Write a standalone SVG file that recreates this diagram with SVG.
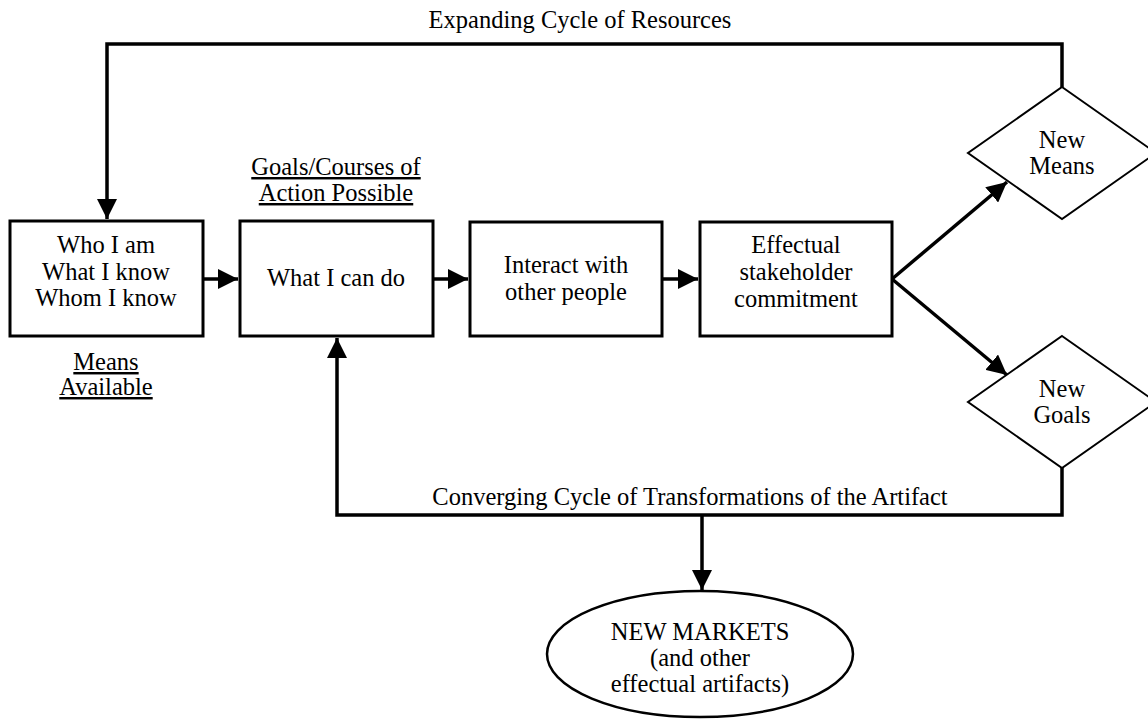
<svg xmlns="http://www.w3.org/2000/svg" width="1148" height="720" viewBox="0 0 1148 720">
<style>
text{font-family:"Liberation Serif","Times New Roman",serif;font-size:24.5px;fill:#000;text-anchor:middle}
.box{fill:#fff;stroke:#000;stroke-width:3}
.dia{fill:#fff;stroke:#000;stroke-width:2}
.conn{fill:none;stroke:#000;stroke-width:3.5}
.u{text-decoration:underline}
</style>
<defs>
<marker id="ah" markerUnits="userSpaceOnUse" markerWidth="20" markerHeight="20" viewBox="0 0 20 20" refX="20" refY="10" orient="auto">
<path d="M0,0 L20,10 L0,20 Z" fill="#000"/>
</marker>
</defs>
<g id="connectors">
<path class="conn" d="M1062,87 V44 H107 V219" marker-end="url(#ah)"/>
<path class="conn" d="M1062,468 V515 H337 V338" marker-end="url(#ah)"/>
<path class="conn" d="M702,515 V590" marker-end="url(#ah)"/>
<path class="conn" d="M203,279 H238" marker-end="url(#ah)"/>
<path class="conn" d="M433,279 H468" marker-end="url(#ah)"/>
<path class="conn" d="M662,279 H698" marker-end="url(#ah)"/>
<path class="conn" d="M892,279 L1007,182" marker-end="url(#ah)"/>
<path class="conn" d="M892,279 L1007,375" marker-end="url(#ah)"/>
</g>
<g id="label-expanding"><text x="580" y="28">Expanding Cycle of Resources</text></g>
<g id="label-converging"><text x="690" y="505">Converging Cycle of Transformations of the Artifact</text></g>
<g id="label-goals">
<text class="u" x="336" y="175">Goals/Courses of</text>
<text class="u" x="336" y="201">Action Possible</text>
</g>
<g id="label-means">
<text class="u" x="106" y="370">Means</text>
<text class="u" x="106" y="395">Available</text>
</g>
<g id="node-who">
<rect class="box" x="10" y="221" width="193" height="115"/>
<text x="106" y="253">Who I am</text>
<text x="106" y="280">What I know</text>
<text x="106" y="306">Whom I know</text>
</g>
<g id="node-what">
<rect class="box" x="240" y="221" width="193" height="115"/>
<text x="336" y="286">What I can do</text>
</g>
<g id="node-interact">
<rect class="box" x="470" y="222" width="192" height="114"/>
<text x="566" y="273">Interact with</text>
<text x="566" y="300">other people</text>
</g>
<g id="node-commit">
<rect class="box" x="700" y="222" width="192" height="114"/>
<text x="796" y="253">Effectual</text>
<text x="796" y="280">stakeholder</text>
<text x="796" y="307">commitment</text>
</g>
<g id="node-newmeans">
<polygon class="dia" points="1062,87 1156,153 1062,219 968,153"/>
<text x="1062" y="148">New</text>
<text x="1062" y="174">Means</text>
</g>
<g id="node-newgoals">
<polygon class="dia" points="1062,336 1156,402 1062,468 968,402"/>
<text x="1062" y="397">New</text>
<text x="1062" y="423">Goals</text>
</g>
<g id="node-markets">
<ellipse cx="700" cy="654" rx="153" ry="63" fill="#fff" stroke="#000" stroke-width="2.5"/>
<text x="700" y="640">NEW MARKETS</text>
<text x="700" y="666">(and other</text>
<text x="700" y="692">effectual artifacts)</text>
</g>
</svg>
